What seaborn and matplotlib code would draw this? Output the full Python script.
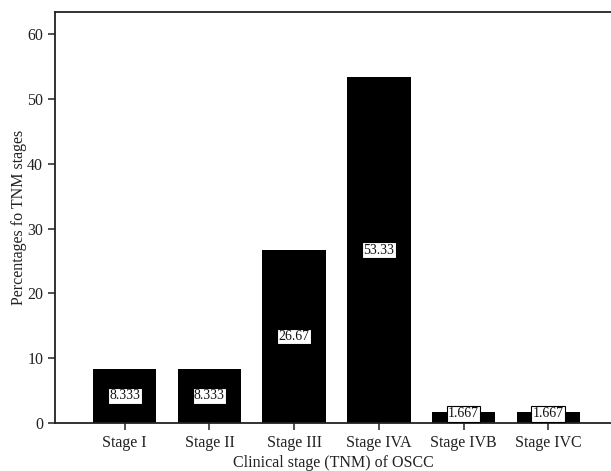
import matplotlib
matplotlib.use("Agg")
import matplotlib.pyplot as plt
import pandas as pd
import seaborn as sns

stages = ["Stage I", "Stage II", "Stage III", "Stage IVA", "Stage IVB", "Stage IVC"]
percentages = [8.333, 8.333, 26.67, 53.33, 1.667, 1.667]
bar_labels = ["8.333", "8.333", "26.67", "53.33", "1.667", "1.667"]

sns.set_style("ticks")
plt.rcParams["font.family"] = ["Liberation Serif", "DejaVu Serif"]

df = pd.DataFrame({"stage": stages, "pct": percentages})

fig = plt.figure(figsize=(6.11, 4.71), dpi=100)
ax = fig.add_axes([0.09, 0.102, 0.91, 0.8725])

sns.barplot(data=df, x="stage", y="pct", color="black", saturation=1,
            width=0.75, linewidth=0, ax=ax)

# labels at bar middle, small bars get lifted so the box sits on the axis
for i, (v, lab) in enumerate(zip(percentages, bar_labels)):
    ax.text(i, max(v / 2, 1.4), lab, ha="center", va="center",
            fontsize=10, color="#111111",
            bbox=dict(boxstyle="square,pad=0.1", fc="white", ec="black", lw=0.8))

ax.set_xlim(-0.823, 5.74)
ax.set_ylim(0, 63.4)
ax.set_yticks([0, 10, 20, 30, 40, 50, 60])
ax.set_xlabel("Clinical stage (TNM) of OSCC", fontsize=11.5, color="#222222",
              labelpad=3)
ax.set_ylabel("Percentages fo TNM stages", fontsize=11.5, color="#222222",
              labelpad=0)
ax.tick_params(labelsize=11.5, length=5, width=1.1, color="#222222",
               labelcolor="#222222")

for side in ["left", "bottom", "top"]:
    ax.spines[side].set_visible(True)
    ax.spines[side].set_linewidth(1.3)
    ax.spines[side].set_color("#222222")
ax.spines["right"].set_visible(False)

fig.savefig("out.png", dpi=100)
